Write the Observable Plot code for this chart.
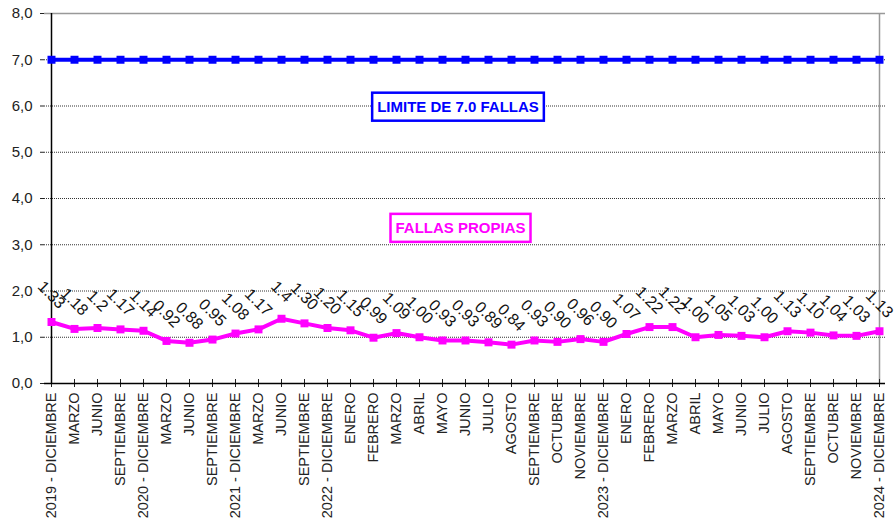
<!DOCTYPE html>
<html><head><meta charset="utf-8">
<script src="https://cdn.jsdelivr.net/npm/d3@7"></script>
<script src="https://cdn.jsdelivr.net/npm/@observablehq/plot@0.6"></script>
<style>body{margin:0;background:#fff;}</style>
</head><body><div id="chart"></div>
<script>
const categories = ["2019 - DICIEMBRE","MARZO","JUNIO","SEPTIEMBRE","2020 - DICIEMBRE","MARZO","JUNIO","SEPTIEMBRE","2021 - DICIEMBRE","MARZO","JUNIO","SEPTIEMBRE","2022 - DICIEMBRE","ENERO","FEBRERO","MARZO","ABRIL","MAYO","JUNIO","JULIO","AGOSTO","SEPTIEMBRE","OCTUBRE","NOVIEMBRE","2023 - DICIEMBRE","ENERO","FEBRERO","MARZO","ABRIL","MAYO","JUNIO","JULIO","AGOSTO","SEPTIEMBRE","OCTUBRE","NOVIEMBRE","2024 - DICIEMBRE"];
const fallasPropias = [1.33,1.18,1.2,1.17,1.14,0.92,0.88,0.95,1.08,1.17,1.4,1.30,1.20,1.15,0.99,1.09,1.00,0.93,0.93,0.89,0.84,0.93,0.90,0.96,0.90,1.07,1.22,1.22,1.00,1.05,1.03,1.00,1.13,1.10,1.04,1.03,1.13];
const fallasLabels = ["1.33","1.18","1.2","1.17","1.14","0.92","0.88","0.95","1.08","1.17","1.4","1.30","1.20","1.15","0.99","1.09","1.00","0.93","0.93","0.89","0.84","0.93","0.90","0.96","0.90","1.07","1.22","1.22","1.00","1.05","1.03","1.00","1.13","1.10","1.04","1.03","1.13"];
const limite = [7.0,7.0,7.0,7.0,7.0,7.0,7.0,7.0,7.0,7.0,7.0,7.0,7.0,7.0,7.0,7.0,7.0,7.0,7.0,7.0,7.0,7.0,7.0,7.0,7.0,7.0,7.0,7.0,7.0,7.0,7.0,7.0,7.0,7.0,7.0,7.0,7.0];
const yTicks = [0,1,2,3,4,5,6,7,8];
const limiteText = "LIMITE DE 7.0 FALLAS";
const propiasText = "FALLAS PROPIAS";

const BLUE = "#0000FF", MAGENTA = "#FF00FF";
const idx = categories.map((_, i) => i);
const propiasRows = idx.map(i => ({i, v: fallasPropias[i], label: fallasLabels[i]}));
const limiteRows = idx.map(i => ({i, v: limite[i]}));
const last = idx[idx.length - 1];

const chart = Plot.plot({
  width: 896, height: 522,
  marginLeft: 44, marginRight: 11, marginTop: 13, marginBottom: 139,
  style: {fontFamily: "'Liberation Sans', Arial, sans-serif", background: "#fff", color: "#222"},
  x: {type: "point", domain: idx, padding: 0},
  y: {domain: [0, 8]},
  marks: [
    Plot.gridY(yTicks.filter(d => d > 0 && d < 8), {stroke: "#333", strokeOpacity: 1, strokeDasharray: "1,1"}),
    Plot.ruleY([8], {stroke: "#999", strokeWidth: 1.5}),
    Plot.ruleX([last], {stroke: "#999", strokeWidth: 1.5}),
    Plot.axisY(yTicks, {tickSize: 4, tickPadding: 8, fontSize: 15, label: null, stroke: "#222",
      tickFormat: d => d.toFixed(1).replace(".", ",")}),
    Plot.axisX(idx, {tickSize: 4, tickPadding: 5, tickRotate: -90, fontSize: 14.5, label: null, stroke: "#222",
      tickFormat: i => categories[i]}),
    Plot.ruleX(idx, {x: d => d, y1: 0, y2: 0, insetTop: -4, insetBottom: -4, stroke: "#222"}),
    Plot.ruleX([0], {stroke: "#000", strokeWidth: 1.5}),
    Plot.ruleY([0], {stroke: "#000", strokeWidth: 1.5}),
    Plot.line(limiteRows, {x: "i", y: "v", stroke: BLUE, strokeWidth: 4}),
    Plot.dot(limiteRows, {x: "i", y: "v", symbol: "square", fill: BLUE, r: 4.5}),
    Plot.line(propiasRows, {x: "i", y: "v", stroke: MAGENTA, strokeWidth: 4}),
    Plot.dot(propiasRows, {x: "i", y: "v", symbol: "square", fill: MAGENTA, r: 4.5}),
    Plot.text(propiasRows, {x: "i", y: "v", text: "label", rotate: 45, dy: -27, fontSize: 16, fill: "#111"}),
    Plot.text([limiteText], {y: 5.97, text: d => d, dx: -7, fontSize: 15, fontWeight: "bold", fill: BLUE}),
    Plot.text([propiasText], {y: 3.35, text: d => d, dx: -4.5, fontSize: 15, fontWeight: "bold", fill: MAGENTA})
  ]
});
document.getElementById("chart").append(chart);

const boxes = [[limiteText, BLUE], [propiasText, MAGENTA]];
const allTexts = Array.from(chart.querySelectorAll("text"));
for (const [label, color] of boxes) {
  allTexts.filter(t => t.textContent === label).forEach(t => {
    const b = t.getBBox();
    const r = document.createElementNS("http://www.w3.org/2000/svg", "rect");
    r.setAttribute("x", b.x - 5);
    r.setAttribute("y", b.y - 5.5);
    r.setAttribute("width", b.width + 10);
    r.setAttribute("height", b.height + 11);
    if (t.getAttribute("transform")) r.setAttribute("transform", t.getAttribute("transform"));
    r.setAttribute("fill", "#fff");
    r.setAttribute("stroke", color);
    r.setAttribute("stroke-width", 2.5);
    t.parentNode.insertBefore(r, t);
  });
}
</script>
</body></html>
